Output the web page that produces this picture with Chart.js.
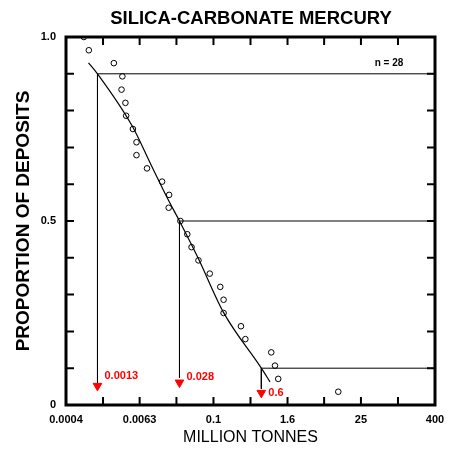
<!DOCTYPE html>
<html>
<head>
<meta charset="utf-8">
<script src="https://cdn.jsdelivr.net/npm/chart.js@4.4.0/dist/chart.umd.min.js"></script>
<style>
  html, body { margin: 0; padding: 0; background: #fff; }
</style>
</head>
<body>
<canvas id="myChart" width="458" height="457"></canvas>
<script>
// deposit sizes (million tonnes) and cumulative proportion
const depositTonnage = [0.00078, 0.00094, 0.0024, 0.0033, 0.0032, 0.0037, 0.0038, 0.0049, 0.0056, 0.0056,
                        0.0083, 0.0146, 0.019, 0.0187, 0.029, 0.0375, 0.044, 0.057, 0.087, 0.129,
                        0.146, 0.146, 0.28, 0.33, 0.87, 1.0, 1.13, 10.7];
const depositProportion = [1.0, 0.964, 0.929, 0.893, 0.857, 0.821, 0.786, 0.75, 0.714, 0.679,
                           0.643, 0.607, 0.571, 0.536, 0.5, 0.464, 0.429, 0.393, 0.357, 0.321,
                           0.286, 0.25, 0.214, 0.179, 0.143, 0.107, 0.071, 0.036];

// fitted curve
const fitTonnage = [0.00093, 0.0013, 0.0047, 0.0099, 0.0182, 0.028, 0.056, 0.144, 0.6, 0.83];
const fitProportion = [0.93, 0.9, 0.76, 0.649, 0.559, 0.5, 0.4, 0.253, 0.1, 0.063];

// 90th, 50th, 10th percentiles
const levelProportion = [0.9, 0.5, 0.1];
const levelTonnage = [0.0013, 0.028, 0.6];
const arrowEnd = [0.06, 0.074, 0.044];
const arrowHead = [0.052, 0.061, 0.033];
const levelLabelY = [0.08, 0.077, 0.034];

const xTicks = [0.0004, 0.0016, 0.0063, 0.025, 0.1, 0.4, 1.6, 6.3, 25, 100, 400];
const xTickLabels = ['0.0004', '', '0.0063', '', '0.1', '', '1.6', '', '25', '', '400'];
const yTickLabels = {0: '0', 0.5: '0.5', 1: '1.0'};

const FONT = "'Liberation Sans', Arial, sans-serif";

const points = depositTonnage.map((t, i) => ({x: t, y: depositProportion[i]}));
const fit = fitTonnage.map((t, i) => ({x: t, y: fitProportion[i]}));

const levelSets = levelTonnage.map((t, i) => ({
    type: 'line',
    data: [{x: 400, y: levelProportion[i]}, {x: t, y: levelProportion[i]}, {x: t, y: arrowEnd[i]}],
    borderColor: '#000',
    borderWidth: 1,
    pointRadius: 0,
    tension: 0
}));

const frame = {
  id: 'frame',
  afterDatasetsDraw(chart) {
    const {ctx, chartArea: a, scales: {x, y}} = chart;
    ctx.save();
    ctx.strokeStyle = '#000';
    ctx.lineWidth = 2;
    x.ticks.forEach(t => {
      const px = x.getPixelForValue(t.value);
      if (px <= a.left + 2 || px >= a.right - 2) return;
      ctx.beginPath();
      ctx.moveTo(px, a.bottom); ctx.lineTo(px, a.bottom - 8);
      ctx.moveTo(px, a.top); ctx.lineTo(px, a.top + 8);
      ctx.stroke();
    });
    y.ticks.forEach(t => {
      const py = y.getPixelForValue(t.value);
      if (py <= a.top + 2 || py >= a.bottom - 2) return;
      ctx.beginPath();
      ctx.moveTo(a.left, py); ctx.lineTo(a.left + 8, py);
      ctx.moveTo(a.right, py); ctx.lineTo(a.right - 8, py);
      ctx.stroke();
    });
    ctx.lineWidth = 3;
    ctx.strokeRect(a.left, a.top, a.width, a.height);

    ctx.font = 'bold 11px ' + FONT;
    ctx.textBaseline = 'middle';
    ctx.fillStyle = '#ff0000';
    levelTonnage.forEach((t, i) => {
      ctx.fillText(String(t), x.getPixelForValue(t) + 7, y.getPixelForValue(levelLabelY[i]));
    });
    ctx.fillStyle = '#000';
    ctx.font = 'bold 10px ' + FONT;
    ctx.textAlign = 'center';
    ctx.fillText('n = ' + depositTonnage.length, a.right - 46, a.top + 26);

    // chart title
    ctx.font = 'bold 18.5px ' + FONT;
    ctx.fillText('SILICA-CARBONATE MERCURY', 251, 19);
    ctx.restore();
  }
};

const myChart = new Chart(document.getElementById('myChart').getContext('2d'), {
    type: 'scatter',
    data: {
        datasets: [
            {
                data: points,
                pointStyle: 'circle',
                pointRadius: 2.8,
                borderWidth: 1,
                borderColor: '#000',
                backgroundColor: 'rgba(255,255,255,0)'
            },
            {
                type: 'line',
                data: fit,
                borderColor: '#000',
                borderWidth: 1.2,
                pointRadius: 0,
                cubicInterpolationMode: 'monotone'
            },
            ...levelSets,
            {
                data: levelTonnage.map((t, i) => ({x: t, y: arrowHead[i]})),
                pointStyle: 'triangle',
                rotation: 180,
                pointRadius: 5,
                borderWidth: 1,
                borderColor: '#ff0000',
                backgroundColor: '#ff0000'
            }
        ]
    },
    options: {
      responsive: false,
      animation: false,
      layout: { padding: { left: 0, right: 23, top: 37, bottom: 0 } },
      plugins: {
        legend: { display: false },
        tooltip: { enabled: false },
        title: { display: false }
      },
      scales: {
        x: {
          type: 'logarithmic',
          min: 0.0004,
          max: 400,
          afterBuildTicks: s => { s.ticks = xTicks.map(v => ({value: v})); },
          afterFit: s => { s.height = 52; },
          grid: { display: false, drawTicks: false },
          border: { display: false },
          ticks: {
            autoSkip: false,
            maxRotation: 0,
            padding: 8,
            color: '#000',
            font: { family: FONT, size: 11, weight: 'bold' },
            callback: (v, i) => xTickLabels[i]
          },
          title: {
            display: true,
            text: 'MILLION TONNES',
            color: '#000',
            font: { family: FONT, size: 16 },
            padding: { top: 0, bottom: 10 }
          }
        },
        y: {
          min: 0,
          max: 1,
          afterFit: s => { s.width = 66; },
          grid: { display: false, drawTicks: false },
          border: { display: false },
          ticks: {
            stepSize: 0.1,
            padding: 10,
            color: '#000',
            font: { family: FONT, size: 11, weight: 'bold' },
            callback: v => yTickLabels[Math.round(v * 10) / 10] || ''
          },
          title: {
            display: true,
            text: 'PROPORTION OF DEPOSITS',
            color: '#000',
            font: { family: FONT, size: 19, weight: 'bold' },
            padding: { top: 12, bottom: 0 }
          }
        }
      }
    },
    plugins: [frame]
});
</script>
</body>
</html>
